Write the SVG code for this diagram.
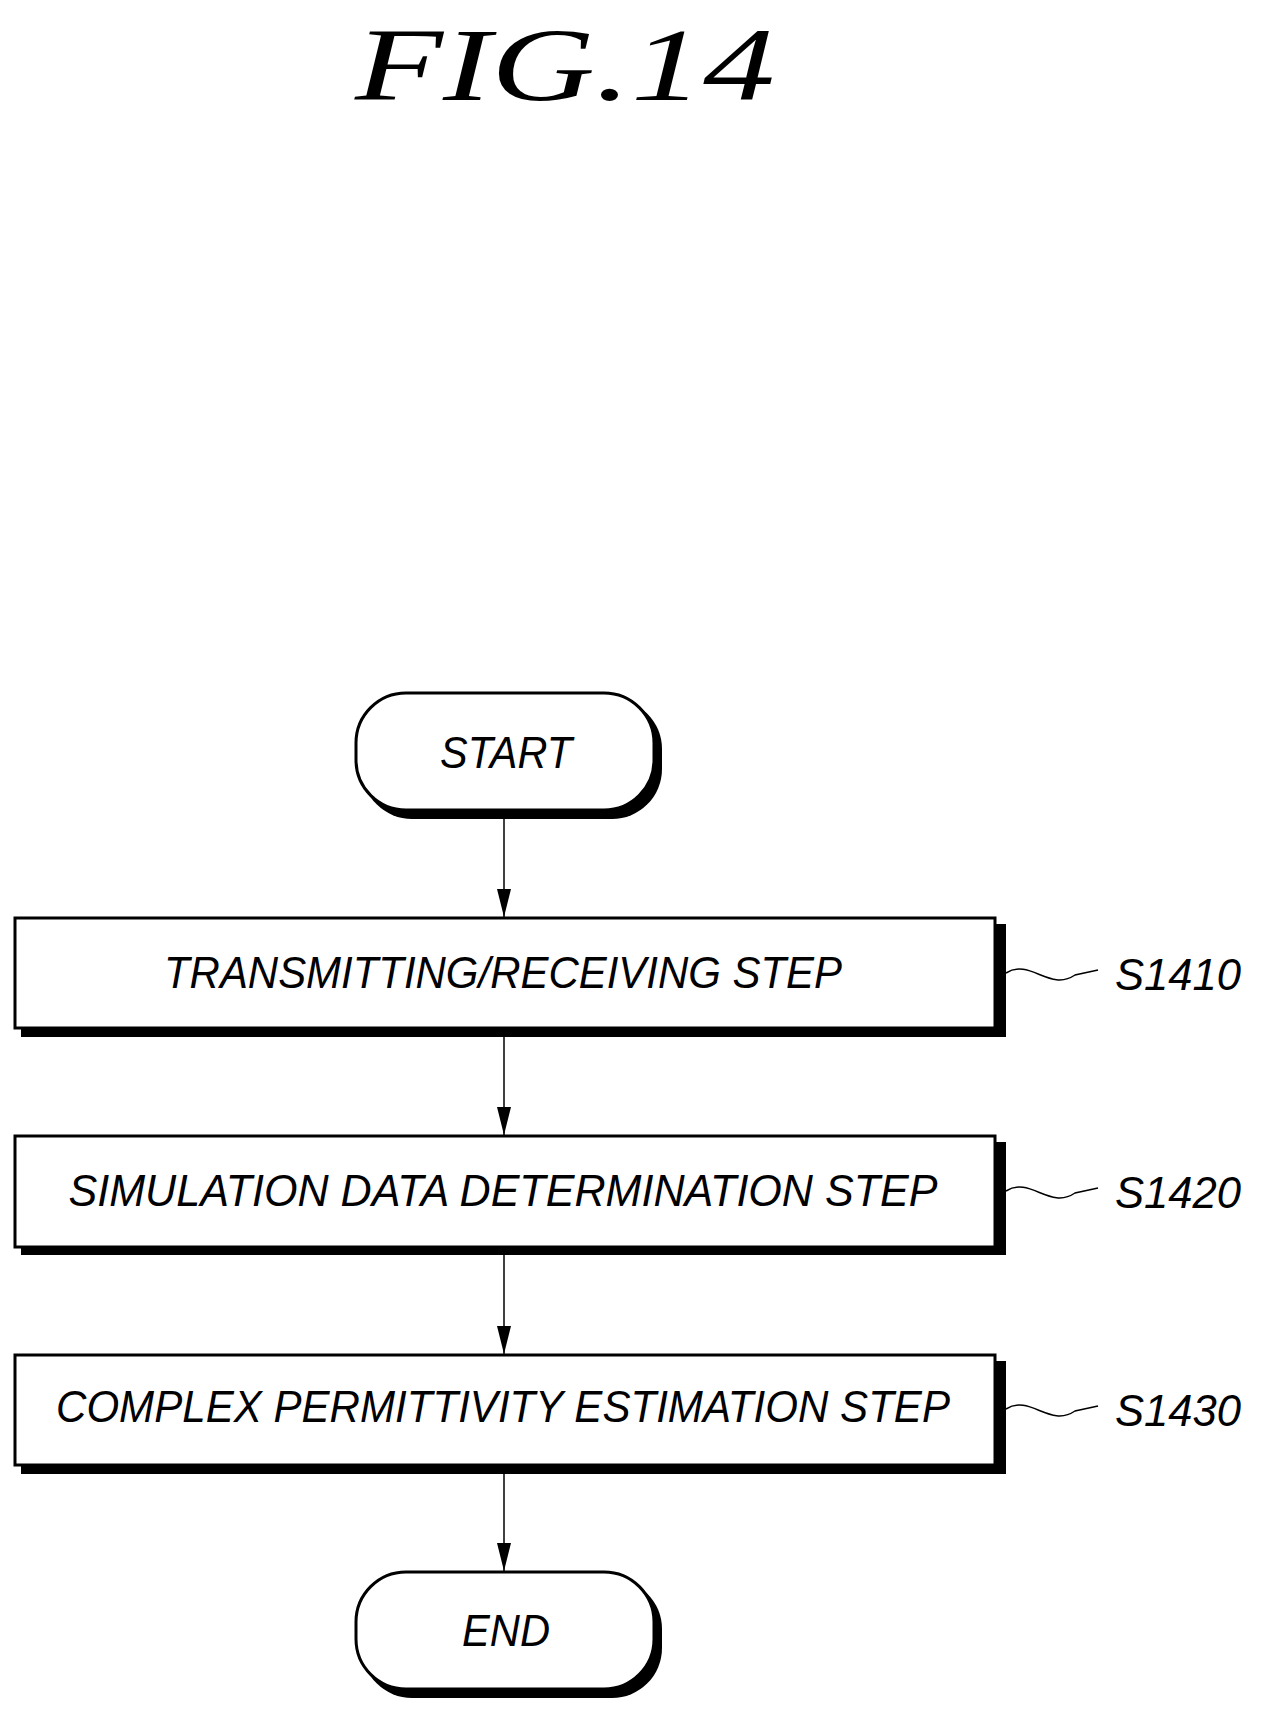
<svg xmlns="http://www.w3.org/2000/svg" width="1262" height="1713" viewBox="0 0 1262 1713">
<style>
.t{font-family:"Liberation Sans",Arial,sans-serif;font-style:italic;font-size:44px;fill:#000}
.box{fill:#fff;stroke:#000;stroke-width:3}
.sh{fill:#000}
.ln{stroke:#000;stroke-width:1.5;fill:none}
.tl{stroke:#000;stroke-width:1.5;fill:none}
</style>
<defs><marker id="ah" markerWidth="28" markerHeight="14" refX="28" refY="7" orient="auto" markerUnits="userSpaceOnUse" viewBox="0 0 28 14"><path d="M0,0 L28,7 L0,14 Z"/></marker></defs>
<rect width="1262" height="1713" fill="#fff"/>
<text x="355" y="100" font-family="Liberation Serif,serif" font-style="italic" font-size="104" textLength="420" lengthAdjust="spacingAndGlyphs">FIG.14</text>
<g id="connectors">
<line class="ln" x1="504" y1="815" x2="504" y2="917" marker-end="url(#ah)"/>
<line class="ln" x1="504" y1="1036" x2="504" y2="1135" marker-end="url(#ah)"/>
<line class="ln" x1="504" y1="1255" x2="504" y2="1354" marker-end="url(#ah)"/>
<line class="ln" x1="504" y1="1473" x2="504" y2="1571" marker-end="url(#ah)"/>
</g>
<g id="start"><rect class="sh" x="362" y="699" width="300" height="120" rx="50"/><rect class="box" x="356" y="693" width="298" height="117" rx="50"/><text class="t" x="506" y="768" text-anchor="middle" textLength="132" lengthAdjust="spacingAndGlyphs">START</text></g>
<g id="s1410"><rect class="sh" x="21" y="924" width="985" height="113"/><rect class="box" x="15" y="918" width="980" height="110"/><text class="t" x="503" y="988" text-anchor="middle" textLength="678" lengthAdjust="spacingAndGlyphs">TRANSMITTING/RECEIVING STEP</text>
<path class="tl" d="M1006,973 C1030,958 1050,992 1075,975 L1098,970"/><text class="t" x="1115" y="990" textLength="126" lengthAdjust="spacingAndGlyphs">S1410</text></g>
<g id="s1420"><rect class="sh" x="21" y="1142" width="985" height="113"/><rect class="box" x="15" y="1136" width="980" height="111"/><text class="t" x="503" y="1206" text-anchor="middle" textLength="869" lengthAdjust="spacingAndGlyphs">SIMULATION DATA DETERMINATION STEP</text>
<path class="tl" d="M1006,1191 C1030,1176 1050,1210 1075,1193 L1098,1188"/><text class="t" x="1115" y="1208" textLength="126" lengthAdjust="spacingAndGlyphs">S1420</text></g>
<g id="s1430"><rect class="sh" x="21" y="1361" width="985" height="113"/><rect class="box" x="15" y="1355" width="980" height="110"/><text class="t" x="503" y="1422" text-anchor="middle" textLength="894" lengthAdjust="spacingAndGlyphs">COMPLEX PERMITTIVITY ESTIMATION STEP</text>
<path class="tl" d="M1006,1409 C1030,1394 1050,1428 1075,1411 L1098,1406"/><text class="t" x="1115" y="1426" textLength="126" lengthAdjust="spacingAndGlyphs">S1430</text></g>
<g id="end"><rect class="sh" x="362" y="1579" width="300" height="119" rx="50"/><rect class="box" x="356" y="1572" width="298" height="117" rx="50"/><text class="t" x="506" y="1646" text-anchor="middle" textLength="88" lengthAdjust="spacingAndGlyphs">END</text></g>
</svg>
